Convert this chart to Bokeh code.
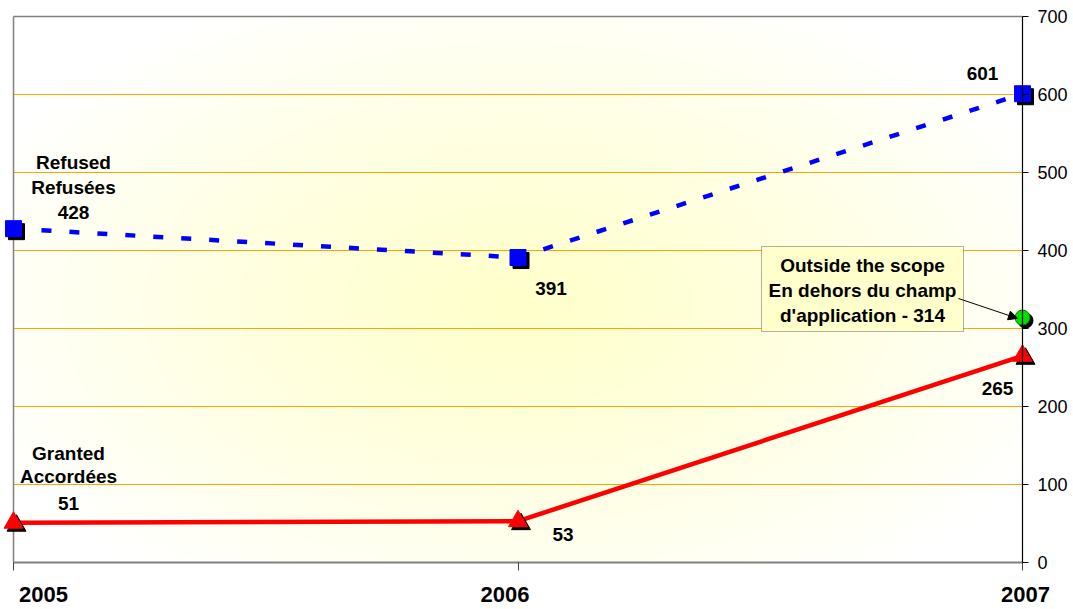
import numpy as np
from bokeh.plotting import figure
from bokeh.models import (Range1d, FixedTicker, Label, BoxAnnotation, Arrow,
                          NormalHead, LinearAxis, CustomJSTickFormatter,
                          ColumnDataSource, LabelSet)
from bokeh.embed import file_html
from bokeh.resources import INLINE

# ---- data ----
years = ["2005", "2006", "2007"]
refused = [428, 391, 601]
granted = [51, 53, 265]
outside_year = "2007"
outside_value = 314
y_ticks = [0, 100, 200, 300, 400, 500, 600, 700]

xi = list(range(len(years)))
x_out = years.index(outside_year)
x0, x1 = xi[0], xi[-1]
y0, y1 = y_ticks[0], y_ticks[-1]

FONT = "Liberation Sans"
W, H = 1073, 609
# plot-area pixel geometry (layout only)
PL, PR, PT, PB = 13, 1022, 16, 562
kx = (PR - PL) / (x1 - x0)      # px per x unit
ky = (PB - PT) / (y1 - y0)      # px per y unit

p = figure(width=W, height=H, output_backend="svg", toolbar_location=None,
           x_range=Range1d(x0 - PL / kx, x1 + (W - PR) / kx),
           y_range=Range1d(y0 - (H - PB) / ky, y1 + PT / ky),
           y_axis_location="right",
           min_border_left=0, min_border_right=0,
           min_border_top=0, min_border_bottom=0)
p.background_fill_color = "white"
p.border_fill_color = "white"
p.outline_line_color = None
p.xgrid.visible = False
p.ygrid.visible = False

# background radial gradient (style only)
nx, ny = 400, 240
gx = np.linspace(0, 1, nx)
gy = np.linspace(0, 1, ny)
GX, GY = np.meshgrid(gx, gy)
t = np.sqrt(((GX - 0.5) / 0.58) ** 2 + ((GY - 0.47) / 0.62) ** 2)
t = np.clip(t, 0, 1) ** 1.2
b = 204 + (255 - 204) * t
img = np.empty((ny, nx), dtype=np.uint32)
view = img.view(dtype=np.uint8).reshape((ny, nx, 4))
view[:, :, 0] = 255
view[:, :, 1] = 255
view[:, :, 2] = b.astype(np.uint8)
view[:, :, 3] = 255
p.image_rgba(image=[img], x=x0, y=y0, dw=x1 - x0, dh=y1 - y0, level="image")

# grid lines (between 0 and 700) and plot-area border
inner = y_ticks[1:-1]
p.segment(x0=[x0] * len(inner), x1=[x1] * len(inner), y0=inner, y1=inner,
          line_color="#FFA500", line_width=1, level="underlay")
p.segment(x0=[x0, x0], x1=[x0, x1], y0=[y0, y1], y1=[y1, y1],
          line_color="#808080", line_width=1.5, level="underlay")

# right value axis at x = 2007
ax = p.yaxis[0]
ax.fixed_location = x1
ax.bounds = (y0, y1)
ax.ticker = FixedTicker(ticks=y_ticks)
ax.axis_line_color = "black"
ax.axis_line_width = 1.2
ax.major_tick_line_color = "black"
ax.major_tick_out = 6
ax.major_tick_in = 0
ax.minor_tick_line_color = None
ax.major_label_text_font = FONT
ax.major_label_text_font_size = "18px"
ax.major_label_text_color = "black"
ax.major_label_standoff = 9

# bottom category axis (line + ticks)
xa = p.xaxis[0]
xa.fixed_location = y0
xa.bounds = (x0, x1)
xa.ticker = FixedTicker(ticks=xi)
xa.axis_line_color = "#808080"
xa.axis_line_width = 2
xa.major_tick_line_color = "#404040"
xa.major_tick_out = 8
xa.major_tick_in = 0
xa.minor_tick_line_color = None
xa.major_label_text_font_size = "0px"
xa.major_label_overrides = {i: "" for i in xi}

# bottom category labels (nudged like the original)
label_shift_px = [30, -13, 3]
lax = LinearAxis(fixed_location=y0)
lax.ticker = FixedTicker(ticks=[x + d / kx for x, d in zip(xi, label_shift_px)])
lax.formatter = CustomJSTickFormatter(args=dict(names=years),
                                      code="return names[index];")
lax.axis_line_color = None
lax.major_tick_line_color = None
lax.minor_tick_line_color = None
lax.major_tick_out = 0
lax.major_tick_in = 0
lax.major_label_standoff = 24
lax.major_label_text_font = FONT
lax.major_label_text_font_size = "22px"
lax.major_label_text_font_style = "bold"
lax.major_label_text_color = "black"
p.add_layout(lax, "below")

# shadow offsets (screen px -> data)
sx = 3 / kx
sy = 3 / ky

# refused line
p.line(xi, refused, line_color="#0000FF", line_width=4.5, line_dash="10 18")
p.scatter([x + sx for x in xi], [v - sy for v in refused], marker="square",
          size=16, fill_color="black", line_color="black")
p.scatter(xi, refused, marker="square", size=16, fill_color="#0000FF",
          line_color="#0000FF")

# granted line
p.line(xi, granted, line_color="#FF0000", line_width=4.5)
p.scatter([x + sx for x in xi], [v - sy for v in granted], marker="triangle",
          size=19, fill_color="black", line_color="black")
p.scatter(xi, granted, marker="triangle", size=19, fill_color="#FF0000",
          line_color="#FF0000")

# outside the scope point
p.scatter([x_out + sx], [outside_value - sy], marker="circle", size=15,
          fill_color="black", line_color="black")
p.scatter([x_out], [outside_value], marker="circle", size=15,
          fill_color="#00DD00", line_color="#007700")


def lab(x, y, text, dx, dy, size="19px", bold=True, align="center"):
    p.add_layout(Label(x=x, y=y, text=text, x_offset=dx, y_offset=dy,
                       text_font=FONT, text_font_size=size,
                       text_font_style="bold" if bold else "normal",
                       text_align=align, text_baseline="middle",
                       text_color="black"))


# refused labels
lab(xi[0], refused[0], "Refused", 60, 66)
lab(xi[0], refused[0], "Refusées", 60, 41)
lab(xi[0], refused[0], str(refused[0]), 60, 16)
lab(xi[1], refused[1], str(refused[1]), 33, -31)
lab(xi[2], refused[2], str(refused[2]), -40, 20)

# granted labels
lab(xi[0], granted[0], "Granted", 55, 69)
lab(xi[0], granted[0], "Accordées", 55, 46)
lab(xi[0], granted[0], str(granted[0]), 55, 19)
lab(xi[1], granted[1], str(granted[1]), 45, -13)
lab(xi[2], granted[2], str(granted[2]), -25, -33)

# callout box (pixel layout -> data)
bx0, bx1, by0, by1 = 761, 963, 246, 331
def dx_(px): return x0 + (px - PL) / kx
def dy_(py): return y0 + (PB - py) / ky
p.add_layout(BoxAnnotation(left=dx_(bx0), right=dx_(bx1), top=dy_(by0),
                           bottom=dy_(by1), fill_color="#FFFFCC", fill_alpha=1,
                           line_color="black", line_width=1, level="annotation"))
cxb, cyb = dx_((bx0 + bx1) / 2), dy_((by0 + by1) / 2)
lab(cxb, cyb, "Outside the scope", 0, 24)
lab(cxb, cyb, "En dehors du champ", 0, -1)
lab(cxb, cyb, "d'application - %d" % outside_value, 0, -26)
p.add_layout(Arrow(end=NormalHead(size=9, fill_color="black", line_color="black"),
                   x_start=dx_(958), y_start=dy_(298), x_end=x_out - 5 / kx,
                   y_end=outside_value - 1, line_color="black", line_width=1))

open("out.html", "w").write(file_html(p, INLINE))
